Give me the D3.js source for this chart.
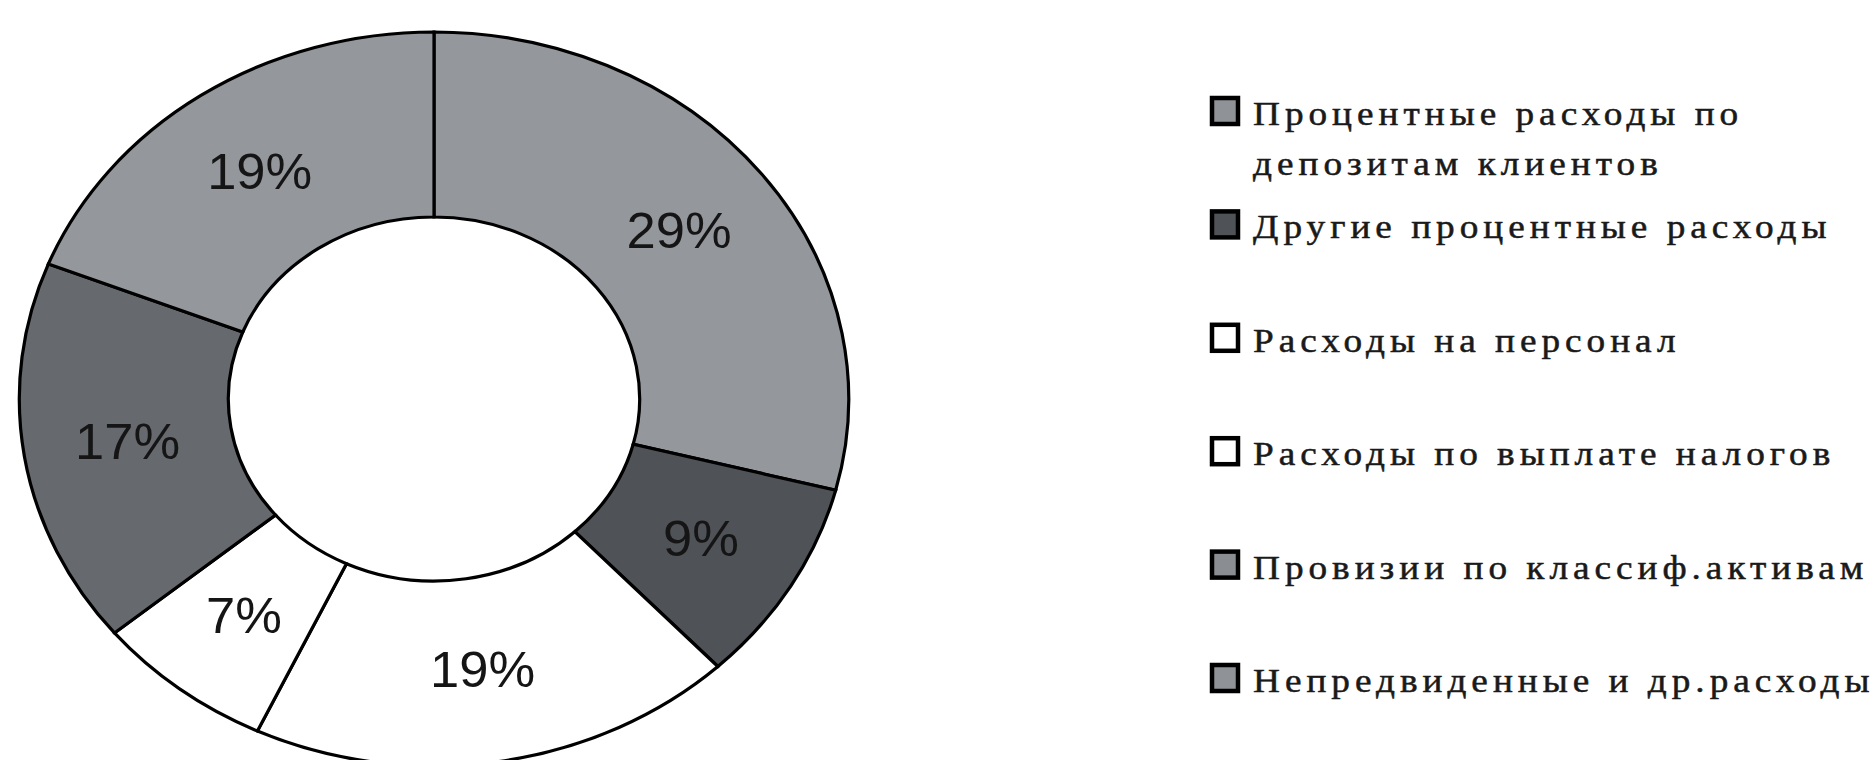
<!DOCTYPE html>
<html>
<head>
<meta charset="utf-8">
<script src="https://cdn.jsdelivr.net/npm/d3@7"></script>
<style>
  body { margin: 0; background: #fff; }
  svg { display: block; }
</style>
</head>
<body>
<div id="container"></div>
<script>
/* CONSTANTS AND GLOBALS */
const width = 1876,
  height = 760;

// data
const categories = [
  "Процентные расходы по депозитам клиентов",
  "Другие процентные расходы",
  "Расходы на персонал",
  "Расходы по выплате налогов",
  "Провизии по классиф.активам",
  "Непредвиденные и др.расходы"
];
const shares = [29, 9, 19, 7, 17, 19];
// legend lines (first label wraps)
const legendLines = [
  ["Процентные расходы по", "депозитам клиентов"],
  ["Другие процентные расходы"],
  ["Расходы на персонал"],
  ["Расходы по выплате налогов"],
  ["Провизии по классиф.активам"],
  ["Непредвиденные и др.расходы"]
];

const sliceColors = ["#94979c", "#4f5257", "#ffffff", "#ffffff", "#66696e", "#94979c"];
const boxColors = ["#8f9297", "#4f5257", "#ffffff", "#ffffff", "#8a8d92", "#8f9297"];

const cx = 434, cy = 399,
  rOuter = 367, rInner = 182,
  sx = 1.13; // the scan is stretched sideways

const svg = d3.select("#container")
  .append("svg")
  .attr("width", width)
  .attr("height", height);

const pie = d3.pie().sort(null).value(d => d.value);
const arc = d3.arc().innerRadius(rInner).outerRadius(rOuter);

const data = shares.map((v, i) => ({ name: categories[i], value: v, i }));
const arcs = pie(data);

const ring = svg.append("g")
  .attr("transform", `translate(${cx},${cy}) scale(${sx},1)`);

ring.selectAll("path")
  .data(arcs)
  .join("path")
  .attr("d", arc)
  .attr("fill", d => sliceColors[d.data.i])
  .attr("stroke", "#000")
  .attr("stroke-width", 3.2)
  .attr("vector-effect", "non-scaling-stroke");

// percent labels at arc centroids (kept outside the scaled group)
svg.append("g")
  .selectAll("text")
  .data(arcs)
  .join("text")
  .attr("transform", d => `translate(${cx + arc.centroid(d)[0] * sx},${cy + arc.centroid(d)[1]}) scale(1.05,1)`)
  .attr("text-anchor", "middle")
  .attr("dominant-baseline", "central")
  .style("font-family", "'Liberation Sans', Arial, sans-serif")
  .style("font-size", "50px")
  .attr("fill", "#151515")
  .text(d => d.data.value + "%");

// LEGEND
const legendX = 1210, legendTop = 96, rowStep = 113.4, box = 30;

const item = svg.append("g")
  .selectAll("g")
  .data(legendLines)
  .join("g")
  .attr("transform", (d, i) => `translate(${legendX},${legendTop + i * rowStep})`);

item.append("rect")
  .attr("x", 2)
  .attr("y", 2)
  .attr("width", box - 4)
  .attr("height", box - 4)
  .attr("fill", (d, i) => boxColors[i])
  .attr("stroke", "#000")
  .attr("stroke-width", 4.5);

item.selectAll("text")
  .data(d => d)
  .join("text")
  .attr("transform", (d, j) => `translate(43,${29 + j * 50}) scale(1.13,1)`)
  .style("font-family", "'Liberation Serif', 'Times New Roman', serif")
  .style("font-size", "33px")
  .style("letter-spacing", "4.4px")
  .attr("fill", "#1a1a1a")
  .attr("stroke", "#1a1a1a")
  .attr("stroke-width", 0.5)
  .text(d => d);
</script>
</body>
</html>
